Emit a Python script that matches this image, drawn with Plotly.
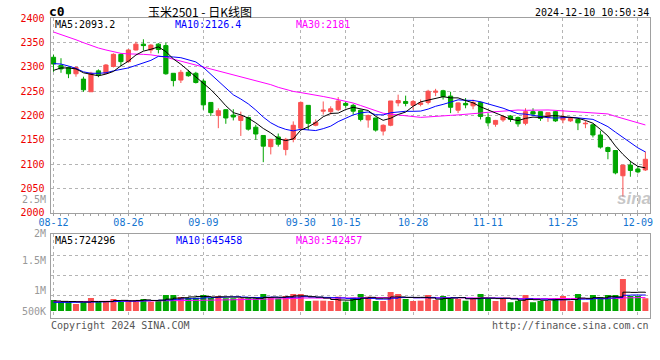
import plotly.graph_objects as go

# ---------------- data ----------------
dates = ["08-12","08-13","08-14","08-15","08-16","08-19","08-20","08-21","08-22","08-23",
         "08-26","08-27","08-28","08-29","08-30","09-02","09-03","09-04","09-05","09-06",
         "09-09","09-10","09-11","09-12","09-13","09-18","09-19","09-20","09-23","09-24",
         "09-25","09-26","09-27","09-30","10-08","10-09","10-10","10-11","10-14","10-15",
         "10-16","10-17","10-18","10-21","10-22","10-23","10-24","10-25","10-28","10-29",
         "10-30","10-31","11-01","11-04","11-05","11-06","11-07","11-08","11-11","11-12",
         "11-13","11-14","11-15","11-18","11-19","11-20","11-21","11-22","11-25","11-26",
         "11-27","11-28","11-29","12-02","12-03","12-04","12-05","12-06","12-09","12-10"]

open_ = [2320,2303,2299,2286,2275,2249,2292,2287,2301,2326,2311,2335,2347,2335,2347,2344,2287,2273,2289,2287,
         2271,2227,2200,2212,2201,2190,2196,2176,2159,2136,2156,2130,2151,2174,2221,2180,2209,2208,2212,2225,
         2221,2211,2191,2195,2168,2180,2226,2229,2221,2223,2227,2248,2251,2240,2211,2225,2220,2227,2196,2182,
         2191,2199,2196,2184,2208,2208,2196,2208,2191,2189,2192,2183,2181,2160,2134,2128,2076,2098,2090,2088]
high = [2325,2318,2301,2301,2280,2290,2295,2306,2328,2328,2337,2352,2357,2347,2349,2350,2287,2294,2294,2290,
        2275,2227,2215,2213,2213,2208,2198,2181,2159,2152,2163,2154,2188,2229,2221,2192,2229,2219,2238,2229,
        2224,2212,2202,2195,2182,2230,2243,2241,2232,2233,2253,2255,2253,2249,2227,2236,2233,2229,2205,2191,
        2201,2201,2198,2215,2215,2208,2206,2210,2211,2196,2194,2189,2183,2169,2136,2128,2098,2107,2096,2126]
low = [2290,2288,2277,2280,2249,2249,2279,2286,2299,2301,2309,2334,2334,2328,2328,2284,2260,2267,2280,2266,
       2212,2199,2174,2183,2190,2158,2169,2150,2104,2120,2136,2118,2145,2170,2170,2178,2202,2202,2209,2216,
       2202,2188,2175,2167,2159,2178,2219,2219,2212,2219,2223,2240,2233,2205,2205,2215,2213,2192,2178,2177,
       2187,2187,2177,2180,2199,2189,2187,2187,2184,2187,2170,2174,2155,2132,2110,2079,2033,2074,2081,2086]
close = [2306,2296,2286,2299,2253,2287,2284,2304,2326,2311,2335,2347,2344,2345,2336,2286,2272,2289,2282,2268,
         2222,2206,2210,2195,2197,2199,2172,2162,2137,2151,2141,2151,2180,2227,2184,2186,2211,2214,2230,2221,
         2209,2192,2200,2170,2180,2230,2231,2225,2229,2226,2250,2250,2239,2217,2226,2222,2227,2198,2185,2190,
         2198,2192,2183,2208,2203,2194,2206,2189,2198,2194,2185,2184,2160,2135,2126,2082,2098,2087,2084,2110]

volume = [441000,374000,374000,280000,347000,521000,374000,374000,481000,374000,
          441000,441000,481000,374000,441000,641000,641000,561000,534000,534000,
          641000,534000,601000,507000,507000,507000,507000,507000,681000,561000,
          507000,601000,681000,681000,400000,414000,414000,400000,574000,374000,
          534000,681000,574000,400000,400000,761000,681000,481000,400000,414000,
          641000,441000,601000,507000,481000,414000,507000,681000,481000,400000,
          507000,347000,414000,641000,347000,400000,400000,507000,601000,400000,
          681000,347000,641000,561000,641000,641000,1282000,601000,601000,507000]

# moving-average values before enough bars exist on screen
ma5_head = [2293, 2298, 2298, 2296]
ma10_head = [2307, 2306, 2302, 2297, 2290, 2287, 2287, 2288, 2292]
ma30_head = [2372, 2367, 2362, 2356, 2350, 2344, 2339, 2335, 2331, 2328, 2327, 2327, 2326, 2325, 2323,
             2320, 2316, 2312, 2308, 2304, 2299, 2295, 2291, 2287, 2283, 2279, 2275, 2271, 2267]
vma5_head = [400000, 385000, 380000, 370000]
vma10_head = [345000, 346000, 348000, 350000, 352000, 358000, 364000, 372000, 384000]
vma30_head = [375000, 377000, 378000, 381000, 382000, 385000, 386000, 389000, 390000, 394000,
              396000, 400000, 402000, 406000, 409000, 413000, 416000, 421000, 424000, 429000,
              433000, 437000, 443000, 447000, 453000, 458000, 465000, 470000, 478000]

ma_text = ["MA5:2093.2", "MA10:2126.4", "MA30:2181"]
vma_text = ["MA5:724296", "MA10:645458", "MA30:542457"]
tick_dates = ["08-12", "08-26", "09-09", "09-30", "10-15", "10-28", "11-11", "11-25", "12-09"]
price_ticks = [2000, 2050, 2100, 2150, 2200, 2250, 2300, 2350, 2400]
vol_labels = ["2M", "1.5M", "1M", "500K"]


def moving(series, n, head):
    out = list(head)
    for i in range(len(head), len(series)):
        out.append(sum(series[i - n + 1:i + 1]) / n)
    return out


idx = list(range(len(dates)))
ma5 = moving(close, 5, ma5_head)
ma10 = moving(close, 10, ma10_head)
ma30 = moving(close, 30, ma30_head)
vma5 = moving(volume, 5, vma5_head)
vma10 = moving(volume, 10, vma10_head)
vma30 = moving(volume, 30, vma30_head)

# ---------------- style ----------------
W, H = 660, 360
RED, GREEN = "#fa5252", "#00a600"
MONO = "DejaVu Sans Mono, Liberation Mono, monospace"
GRID = "#b4b4b4"
BORDER = "#a0a0a0"

def px_x(p):
    return p / W

def px_y(p):
    return 1 - p / H

fig = go.Figure()

fig.add_trace(go.Candlestick(
    x=idx, open=open_, high=high, low=low, close=close,
    increasing=dict(line=dict(color=RED, width=1), fillcolor=RED),
    decreasing=dict(line=dict(color=GREEN, width=1), fillcolor=GREEN),
    whiskerwidth=0, xaxis="x", yaxis="y", showlegend=False, hoverinfo="skip"))

for vals, col in [(ma30, "#ff00ff"), (ma10, "#0000ff"), (ma5, "#000000")]:
    fig.add_trace(go.Scatter(x=idx, y=vals, mode="lines", line=dict(color=col, width=1),
                             xaxis="x", yaxis="y", showlegend=False, hoverinfo="skip"))

vcolors = [RED if c >= o else GREEN for o, c in zip(open_, close)]
fig.add_trace(go.Bar(x=idx, y=volume, marker=dict(color=vcolors, line=dict(width=0)), width=0.8,
                     xaxis="x2", yaxis="y2", showlegend=False, hoverinfo="skip"))
for vals, col in [(vma30, "#ff00ff"), (vma10, "#0000ff"), (vma5, "#000000")]:
    fig.add_trace(go.Scatter(x=idx, y=vals, mode="lines", line=dict(color=col, width=1, shape="hv"),
                             xaxis="x2", yaxis="y2", showlegend=False, hoverinfo="skip"))

tickpos = [dates.index(d) for d in tick_dates]
xdom = [px_x(50.5), px_x(649.5)]
xr = [-0.4, 79.55]

# volume pane: zero line at y=311px, 40050 shares per pixel
VTOP, VBOT, VZERO, VPP = 234.3, 318.0, 311.0, 40050
vrange = [-(VBOT - VZERO) * VPP, (VZERO - VTOP) * VPP]
vgrid = [(VZERO - p) * VPP for p in (255.0, 275.3, 295.7)]

common = dict(automargin=False, zeroline=False, ticks="", fixedrange=True,
              showgrid=True, gridcolor=GRID, griddash="dot", gridwidth=1,
              showline=True, linecolor=BORDER, linewidth=1, mirror=True)

fig.update_layout(
    width=W, height=H, margin=dict(l=0, r=0, t=0, b=0, autoexpand=False),
    paper_bgcolor="white", plot_bgcolor="white", boxgap=0.2, bargap=0.2,
    showlegend=False, template="none",
    xaxis=dict(domain=xdom, range=xr, anchor="y", tickmode="array", tickvals=tickpos,
               ticktext=tick_dates, tickfont=dict(family=MONO, size=10, color="#1474d0"),
               rangeslider=dict(visible=False),
               minor=dict(tickmode="linear", tick0=0, dtick=1, ticks="outside", ticklen=2,
                          tickcolor=BORDER, showgrid=False),
               **common),
    yaxis=dict(domain=[px_y(212.7), px_y(18.4)], range=[2000, 2400], tickmode="array",
               tickvals=price_ticks, ticktext=[str(v) for v in price_ticks],
               tickfont=dict(family=MONO, size=10, color="#ee0000"), ticklabelstandoff=3,
               anchor="x", **common),
    xaxis2=dict(domain=xdom, range=xr, anchor="y2", matches="x", tickmode="array", tickvals=tickpos,
                showticklabels=False, **common),
    yaxis2=dict(domain=[px_y(VBOT), px_y(VTOP)], range=vrange, tickmode="array", tickvals=vgrid,
                showticklabels=False, anchor="x2", **common),
)

def note(text, x, y, color="#000", size=10, anchor="left", family=MONO, bold=False):
    fig.add_annotation(text=("<b>%s</b>" % text) if bold else text, x=px_x(x), y=px_y(y),
                       xref="paper", yref="paper", xanchor=anchor, yanchor="middle",
                       showarrow=False, borderpad=0,
                       font=dict(family=family, size=size, color=color))

# header
note("c0", 48, 12, size=13, bold=True)
note("玉米2501 - 日K线图", 200, 11.3, size=12, anchor="center",
     family="Noto Sans CJK SC, sans-serif")
note("2024-12-10 10:50:34", 649.5, 12.5, size=10, anchor="right")

# MA legends
for t, xpos, col in zip(ma_text, [54, 174, 295], ["#000000", "#0000ff", "#ff00ff"]):
    note(t, xpos, 25, color=col)
for t, xpos, col in zip(vma_text, [54, 175, 295], ["#000000", "#0000ff", "#ff00ff"]):
    note(t, xpos, 240, color=col)

# volume axis labels (as drawn in the original)
for t, ypos in zip(vol_labels, [233, 260, 290.7, 311]):
    note(t, 46.5, ypos, color="#999999", size=10, anchor="right")
note("2.5M", 46.5, 199, color="#999999", size=10, anchor="right")

# footer
note("Copyright 2024 SINA.COM", 49.5, 325, color="#555555")
note("http://finance.sina.com.cn", 649.5, 325, color="#555555", anchor="right")

# watermark
note("<i><b>sina</b></i>", 634, 198, color="rgba(150,150,150,0.55)", size=17, anchor="center",
     family="Liberation Sans, Arial, sans-serif")

# the page body would otherwise add an 8px margin around the figure
fig.write_html("out.html", config={"displayModeBar": False, "staticPlot": True},
               post_script="document.body.style.margin='0px';")
